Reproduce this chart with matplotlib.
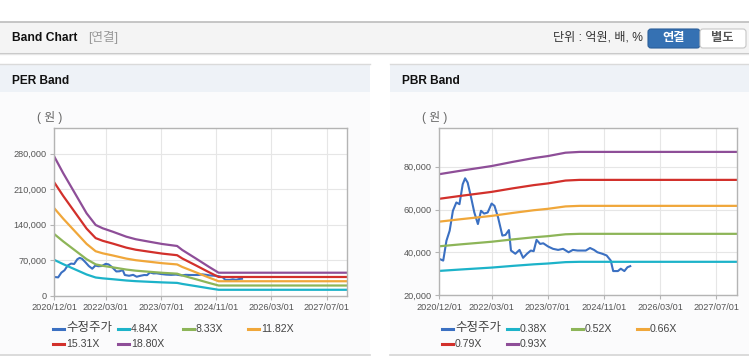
import numpy as np
import pandas as pd
import matplotlib
matplotlib.use('Agg')
import matplotlib.pyplot as plt
from matplotlib.patches import Rectangle, FancyBboxPatch
from matplotlib.lines import Line2D
from matplotlib.transforms import IdentityTransform

plt.rcParams['font.family'] = ['Liberation Sans', 'Noto Sans CJK KR', 'DejaVu Sans']

# 수정주가 (adjusted price)
price_dates = ['2020-12-01', '2021-01-04', '2021-02-01', '2021-03-01', '2021-03-29', '2021-04-28',
               '2021-05-25', '2021-06-22', '2021-07-13', '2021-08-04', '2021-09-03', '2021-10-01',
               '2021-11-01', '2021-11-28', '2021-12-25', '2022-01-25', '2022-02-28', '2022-03-25',
               '2022-04-25', '2022-06-01', '2022-06-28', '2022-07-28', '2022-08-15', '2022-09-22',
               '2022-10-28', '2022-11-28', '2023-01-01', '2023-02-03', '2023-02-28', '2023-03-25',
               '2023-04-25', '2023-05-22', '2023-07-03', '2023-08-15', '2023-09-28', '2023-11-10',
               '2023-11-25', '2023-12-28', '2024-02-03', '2024-03-15', '2024-05-25', '2024-07-01',
               '2024-08-05', '2024-09-03', '2024-10-15', '2024-11-22', '2024-12-28', '2025-01-18',
               '2025-02-28', '2025-03-25', '2025-04-25', '2025-05-22', '2025-06-15']
price = [36900, 36100, 45400, 50100, 59400, 63300,
         62500, 71800, 74600, 72600, 65600, 58600,
         53200, 59400, 58100, 58600, 62800, 61700,
         56300, 47800, 48100, 50400, 40800, 39300,
         41100, 37400, 39300, 40800, 40500, 45800,
         43900, 44200, 42700, 41600, 41100, 41600,
         41100, 40000, 41100, 40800, 40800, 42000,
         41100, 40000, 39300, 38500, 36100, 31200,
         31200, 32300, 31200, 33000, 33500]

# EPS / BPS used for the bands
eps_dates = ['2020-12-01', '2021-02-18', '2021-06-01', '2021-09-12', '2021-12-01', '2022-02-01',
             '2022-05-01', '2022-08-28', '2022-11-20', '2023-03-18', '2023-07-12', '2023-11-20',
             '2024-01-05', '2024-05-01', '2024-08-25', '2024-11-20', '2027-12-31']
eps = [14580, 12840, 10740, 8640, 7415, 7070,
       6710, 6190, 5920, 5665, 5420, 5213,
       4790, 3920, 3040, 2410, 2410]

bps_dates = ['2020-12-01', '2021-06-01', '2021-12-01', '2022-03-01', '2022-09-01', '2023-03-01',
             '2023-07-01', '2023-12-01', '2024-04-01', '2027-12-31']
bps = [82300, 84000, 85600, 86400, 88500, 90400, 91400, 93100, 93500, 93500]

per_multiples = [4.84, 8.33, 11.82, 15.31, 18.80]
pbr_multiples = [0.38, 0.52, 0.66, 0.79, 0.93]

x_ticks = ['2020-12-01', '2022-03-01', '2023-07-01', '2024-11-01', '2026-03-01', '2027-07-01']
per_yticks = [0, 70000, 140000, 210000, 280000]
pbr_yticks = [20000, 40000, 60000, 80000]

colors = ['#3b70c2', '#1db3c9', '#8db558', '#f0a73a', '#d2302b', '#8e4e98']

W, H = 749, 364
fig = plt.figure(figsize=(W / 100, H / 100), dpi=100)
fig.patch.set_facecolor('white')


def fx(x):
    return x / W


def fy(y):
    return 1 - y / H


def box(x0, y0, x1, y1, **kw):
    fig.patches.append(Rectangle((fx(x0), fy(y1)), (x1 - x0) / W, (y1 - y0) / H,
                                 transform=fig.transFigure, zorder=-5, **kw))


def hline(x0, x1, y, color, lw=1.0):
    fig.add_artist(Line2D([fx(x0), fx(x1)], [fy(y), fy(y)], transform=fig.transFigure,
                          color=color, lw=lw, zorder=-4))


# top header bar
box(0, 22, W, 52, facecolor='#f4f4f4', edgecolor='none')
hline(0, W, 22, '#bcbcbc', 1.2)
hline(0, W, 52.5, '#c4c4c4', 1.0)
hline(0, W, 54, '#e6e6e6', 1.0)
fig.text(fx(12), fy(38), 'Band Chart', fontsize=8.7, fontweight='bold', va='center', color='#111')
fig.text(fx(88), fy(38), '[연결]', fontsize=9, va='center', color='#999999')
fig.text(fx(553), fy(38), '단위 : 억원, 배, %', fontsize=8.7, va='center', color='#333333')

# buttons
fig.patches.append(FancyBboxPatch((648, H - 48), 52, 19, boxstyle='round,pad=0,rounding_size=3',
                                  transform=IdentityTransform(), facecolor='#3571b3',
                                  edgecolor='#2c5f9a', lw=0.8))
fig.patches.append(FancyBboxPatch((700, H - 48), 46, 19, boxstyle='round,pad=0,rounding_size=3',
                                  transform=IdentityTransform(), facecolor='white',
                                  edgecolor='#c6c6c6', lw=0.8))
fig.text(fx(674), fy(38.5), '연결', fontsize=8.8, fontweight='bold', ha='center', va='center', color='white')
fig.text(fx(722), fy(38.5), '별도', fontsize=8.8, fontweight='bold', ha='center', va='center', color='#555555')

# panels
for x0, x1, title in [(0, 370, 'PER Band'), (390, W, 'PBR Band')]:
    box(x0, 92, x1, 354, facecolor='#fbfbfc', edgecolor='none')
    box(x0, 64, x1, 92, facecolor='#eef2f7', edgecolor='none')
    hline(x0, x1, 63.5, '#dadada', 1.0)
    hline(x0, x1, 354.5, '#d4d4d4', 1.2)
    fig.text(fx(x0 + 12), fy(80.5), title, fontsize=8.6, fontweight='bold', va='center', color='#111')


def band_axes(rect, base_dates, base, multiples, yticks, ylim, ylabel_x, leg_x, labels):
    l, b, r, t = rect
    ax = fig.add_axes([fx(l), fy(b), (r - l) / W, (b - t) / H])
    ax.set_facecolor('white')
    lines = []
    lines += ax.plot(pd.to_datetime(price_dates), price, color=colors[0], lw=1.5)
    bd = pd.to_datetime(base_dates)
    base = np.array(base, dtype=float)
    for m, c in zip(multiples, colors[1:]):
        lines += ax.plot(bd, base * m, color=c, lw=1.6)
    ax.set_xlim(pd.Timestamp('2020-12-01'), pd.Timestamp('2027-12-31'))
    ax.set_ylim(*ylim)
    ticks = pd.to_datetime(x_ticks)
    ax.set_xticks(ticks)
    ax.set_xticklabels([d.strftime('%Y/%m/%d') for d in ticks])
    ax.set_yticks(yticks)
    ax.set_yticklabels([f'{v:,}' for v in yticks])
    ax.grid(True, color='#e6e6e6', lw=0.8)
    ax.set_axisbelow(True)
    for s in ax.spines.values():
        s.set_color('#b4b4b4')
        s.set_linewidth(1.0)
    ax.tick_params(axis='both', labelsize=6.6, colors='#b4b4b4', labelcolor='#555555',
                   length=3, pad=2.5)
    fig.text(fx(ylabel_x), fy(118), '( 원 )', fontsize=8.5, va='center', color='#666666')
    # legend
    for i, (ln, lab) in enumerate(zip(lines, labels)):
        row, col = divmod(i, 4)
        x0 = leg_x + col * 65
        y = [328.5, 344][row]
        fig.add_artist(Line2D([fx(x0), fx(x0 + 11)], [fy(y), fy(y)], transform=fig.transFigure,
                              color=ln.get_color(), lw=2.2))
        size = 9 if i == 0 else 7.6
        fig.text(fx(x0 + 13), fy(y), lab, fontsize=size, va='center', color='#444444')
    return ax


band_axes((54.3, 295.7, 347.3, 128.3), eps_dates, eps, per_multiples, per_yticks, (0, 330000),
          37, 53, ['수정주가'] + [f'{m:.2f}X' for m in per_multiples])
band_axes((439.3, 295, 737.3, 128.3), bps_dates, bps, pbr_multiples, pbr_yticks, (20000, 98000),
          422, 442, ['수정주가'] + [f'{m:.2f}X' for m in pbr_multiples])

fig.savefig('out.png', dpi=100)
